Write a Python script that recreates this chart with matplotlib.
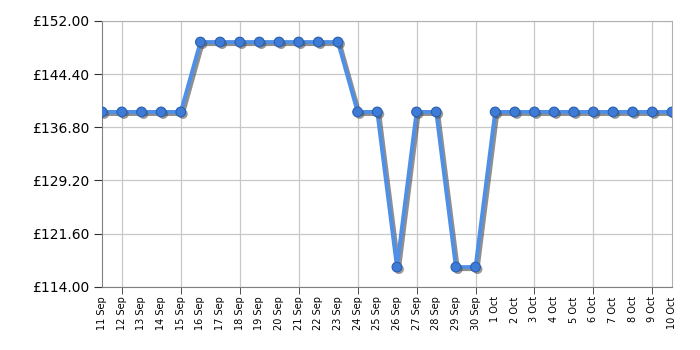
import matplotlib
matplotlib.use("Agg")
import matplotlib.pyplot as plt
import matplotlib.patheffects as pe

dates = ['11 Sep', '12 Sep', '13 Sep', '14 Sep', '15 Sep', '16 Sep', '17 Sep', '18 Sep',
         '19 Sep', '20 Sep', '21 Sep', '22 Sep', '23 Sep', '24 Sep', '25 Sep', '26 Sep',
         '27 Sep', '28 Sep', '29 Sep', '30 Sep', '1 Oct', '2 Oct', '3 Oct', '4 Oct',
         '5 Oct', '6 Oct', '7 Oct', '8 Oct', '9 Oct', '10 Oct']
prices = [138.99, 138.99, 138.99, 138.99, 138.99, 148.99, 148.99, 148.99,
          148.99, 148.99, 148.99, 148.99, 148.99, 138.99, 138.99, 116.8,
          138.99, 138.99, 116.8, 116.8, 138.99, 138.99, 138.99, 138.99,
          138.99, 138.99, 138.99, 138.99, 138.99, 138.99]
yticks = [114.0, 121.6, 129.2, 136.8, 144.4, 152.0]

fig = plt.figure(figsize=(7, 3.5), dpi=100)
ax = fig.add_axes([0.146, 0.181, 0.814, 0.759])

x = list(range(len(dates)))
ax.plot(x, prices, color='#4f8fe6', linewidth=2.8, zorder=3,
        path_effects=[pe.SimpleLineShadow(offset=(1.5, -1.5), shadow_color='#444444', alpha=0.6), pe.Normal()])
ax.plot(x, prices, linestyle='none', marker='o', markersize=7, markerfacecolor='#3d7bd6',
        markeredgecolor='#2a5fae', markeredgewidth=0.8, zorder=4,
        path_effects=[pe.SimplePatchShadow(offset=(1.5, -1.5), shadow_rgbFace='#555555', alpha=0.6), pe.Normal()])

ax.set_xlim(0, len(dates) - 1)
ax.set_ylim(114, 152)
ax.set_yticks(yticks)
ax.set_yticklabels(['£%.2f' % v for v in yticks], fontsize=10)

# every date labelled, grid and tick marks every third day
grid_idx = [i for i in x if (i - 1) % 3 == 0]
ax.set_xticks(x)
ax.set_xticklabels(dates, rotation=90, fontsize=7)
ax.tick_params(axis='x', which='major', length=0, pad=7)
ax.xaxis.remove_overlapping_locs = False
ax.set_xticks(grid_idx, minor=True)
ax.tick_params(axis='x', which='minor', length=5, color='#333333')
ax.tick_params(axis='y', length=6, color='#333333')

for g in grid_idx:
    ax.axvline(g, color='#c8c8c8', linewidth=0.9, zorder=0)
ax.grid(True, axis='y', color='#c8c8c8', linewidth=0.9)
ax.set_axisbelow(True)
for s in ['top', 'right']:
    ax.spines[s].set_color('#b0b0b0')
for s in ['left', 'bottom']:
    ax.spines[s].set_color('#808080')

fig.savefig('out.png', dpi=100)
